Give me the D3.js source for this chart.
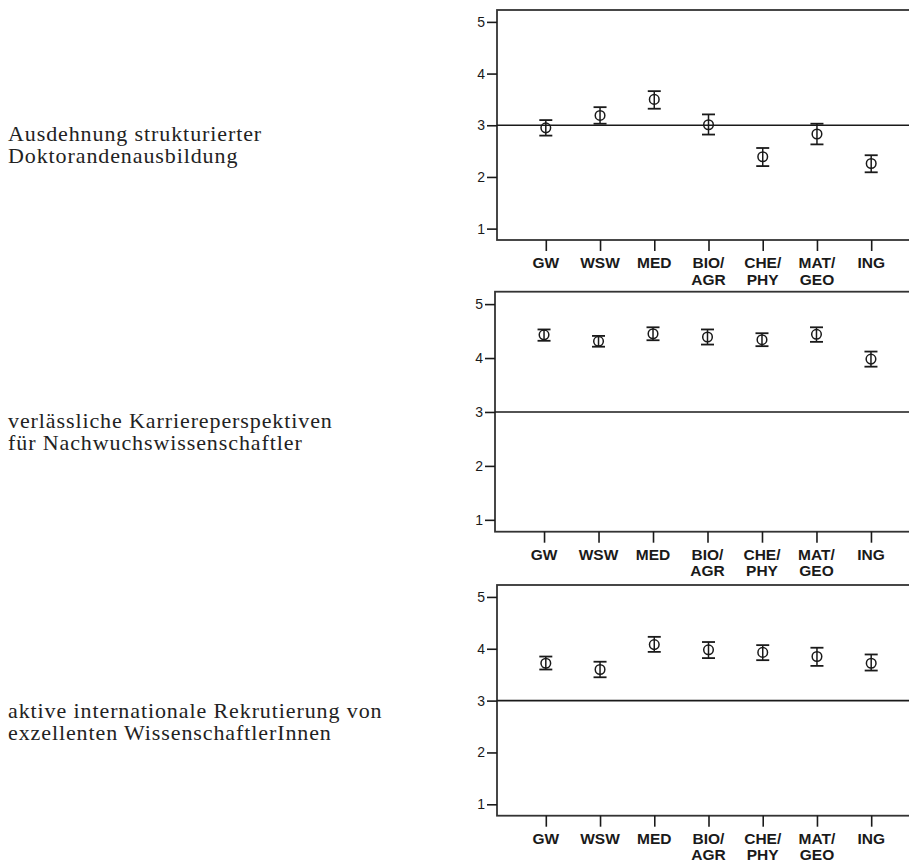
<!DOCTYPE html>
<html>
<head>
<meta charset="utf-8">
<script src="https://cdn.jsdelivr.net/npm/d3@7/dist/d3.min.js"></script>
<style>
  html, body { margin: 0; padding: 0; background: #fff; }
  svg { display: block; }
</style>
</head>
<body>
<svg id="chart" width="909" height="860"></svg>
<script>
// ---------- data ----------
const categories = ["GW", "WSW", "MED", "BIO/AGR", "CHE/PHY", "MAT/GEO", "ING"];
const itemLabels = [
  ["Ausdehnung strukturierter", "Doktorandenausbildung"],
  ["verlässliche Karriereperspektiven", "für Nachwuchswissenschaftler"],
  ["aktive internationale Rekrutierung von", "exzellenten WissenschaftlerInnen"]
];
const means1 = [2.95, 3.19, 3.50, 3.01, 2.39, 2.83, 2.26];
const lower1 = [2.80, 3.03, 3.32, 2.82, 2.21, 2.63, 2.09];
const upper1 = [3.10, 3.35, 3.66, 3.21, 2.56, 3.03, 2.42];
const means2 = [4.43, 4.31, 4.45, 4.39, 4.34, 4.44, 3.98];
const lower2 = [4.32, 4.21, 4.33, 4.25, 4.22, 4.30, 3.84];
const upper2 = [4.53, 4.41, 4.57, 4.53, 4.46, 4.57, 4.12];
const means3 = [3.72, 3.60, 4.08, 3.98, 3.93, 3.85, 3.72];
const lower3 = [3.60, 3.45, 3.94, 3.82, 3.78, 3.67, 3.58];
const upper3 = [3.85, 3.75, 4.23, 4.13, 4.07, 4.02, 3.89];
const yTicks = [1, 2, 3, 4, 5];
const referenceValue = 3;

const series = [
  { means: means1, lower: lower1, upper: upper1 },
  { means: means2, lower: lower2, upper: upper2 },
  { means: means3, lower: lower3, upper: upper3 }
];

// ---------- layout ----------
const layout = [
  { top: 10,    bottom: 240,   left: 497, textY: 141 },
  { top: 291.7, bottom: 531.7, left: 495, textY: 428 },
  { top: 585,   bottom: 815.7, left: 497, textY: 718 }
];
const frameRight = 920;
const ink = "#1a1a1a";

const svg = d3.select("#chart");

series.forEach((s, p) => {
  const L = layout[p];
  const g = svg.append("g");

  const y = d3.scaleLinear().domain([0.78, 5.23]).range([L.bottom, L.top]);
  const x = d3.scalePoint().domain(categories).range([L.left, frameRight]).padding(0.9);

  // frame
  g.append("rect")
    .attr("x", L.left).attr("y", L.top)
    .attr("width", frameRight - L.left).attr("height", L.bottom - L.top)
    .attr("fill", "none").attr("stroke", "#333").attr("stroke-width", 1.8);

  // y axis
  const ya = g.append("g")
    .attr("transform", `translate(${L.left},0)`)
    .call(d3.axisLeft(y).tickValues(yTicks).tickFormat(d3.format("d")).tickSize(10).tickPadding(2));
  ya.select(".domain").remove();
  ya.selectAll(".tick line").attr("stroke", ink).attr("stroke-width", 1.6);
  ya.selectAll(".tick text").attr("fill", ink)
    .style("font-family", "'Liberation Sans', Arial, sans-serif").style("font-size", "14px");

  // x axis
  const xa = g.append("g")
    .attr("transform", `translate(0,${L.bottom})`)
    .call(d3.axisBottom(x).tickSize(11).tickFormat(""));
  xa.select(".domain").remove();
  xa.selectAll(".tick line").attr("stroke", ink).attr("stroke-width", 1.6);

  const lbl = g.append("g").selectAll("text").data(categories).join("text")
    .attr("x", d => x(d))
    .attr("y", L.bottom + 28)
    .attr("text-anchor", "middle")
    .attr("fill", ink)
    .style("font-family", "'Liberation Sans', Arial, sans-serif")
    .style("font-weight", "bold")
    .style("font-size", "15.5px");
  lbl.each(function(d) {
    const parts = d.split("/");
    const t = d3.select(this);
    parts.forEach((part, i) => {
      t.append("tspan")
        .attr("x", x(d))
        .attr("dy", i === 0 ? 0 : 16.5)
        .text(i < parts.length - 1 ? part + "/" : part);
    });
  });

  // reference line
  g.append("line")
    .attr("x1", L.left).attr("x2", frameRight)
    .attr("y1", y(referenceValue)).attr("y2", y(referenceValue))
    .attr("stroke", ink).attr("stroke-width", 1.6);

  // error bars
  const pts = categories.map((c, i) => ({ c, m: s.means[i], lo: s.lower[i], hi: s.upper[i] }));
  const eb = g.append("g").selectAll("g").data(pts).join("g");
  eb.append("line")
    .attr("x1", d => x(d.c)).attr("x2", d => x(d.c))
    .attr("y1", d => y(d.lo)).attr("y2", d => y(d.hi))
    .attr("stroke", ink).attr("stroke-width", 1.5);
  eb.append("line")
    .attr("x1", d => x(d.c) - 6.5).attr("x2", d => x(d.c) + 6.5)
    .attr("y1", d => y(d.hi)).attr("y2", d => y(d.hi))
    .attr("stroke", ink).attr("stroke-width", 1.8);
  eb.append("line")
    .attr("x1", d => x(d.c) - 6.5).attr("x2", d => x(d.c) + 6.5)
    .attr("y1", d => y(d.lo)).attr("y2", d => y(d.lo))
    .attr("stroke", ink).attr("stroke-width", 1.8);
  eb.append("circle")
    .attr("cx", d => x(d.c)).attr("cy", d => y(d.m))
    .attr("r", 4.8)
    .attr("fill", "none").attr("stroke", ink).attr("stroke-width", 1.5);

  // item label
  const t = svg.append("text")
    .attr("fill", "#222")
    .style("font-family", "'Liberation Serif', 'Times New Roman', serif")
    .style("font-size", "22px")
    .style("letter-spacing", "0.9px");
  itemLabels[p].forEach((line, i) => {
    t.append("tspan").attr("x", 8).attr("y", L.textY + i * 21.5).text(line);
  });
});
</script>
</body>
</html>
